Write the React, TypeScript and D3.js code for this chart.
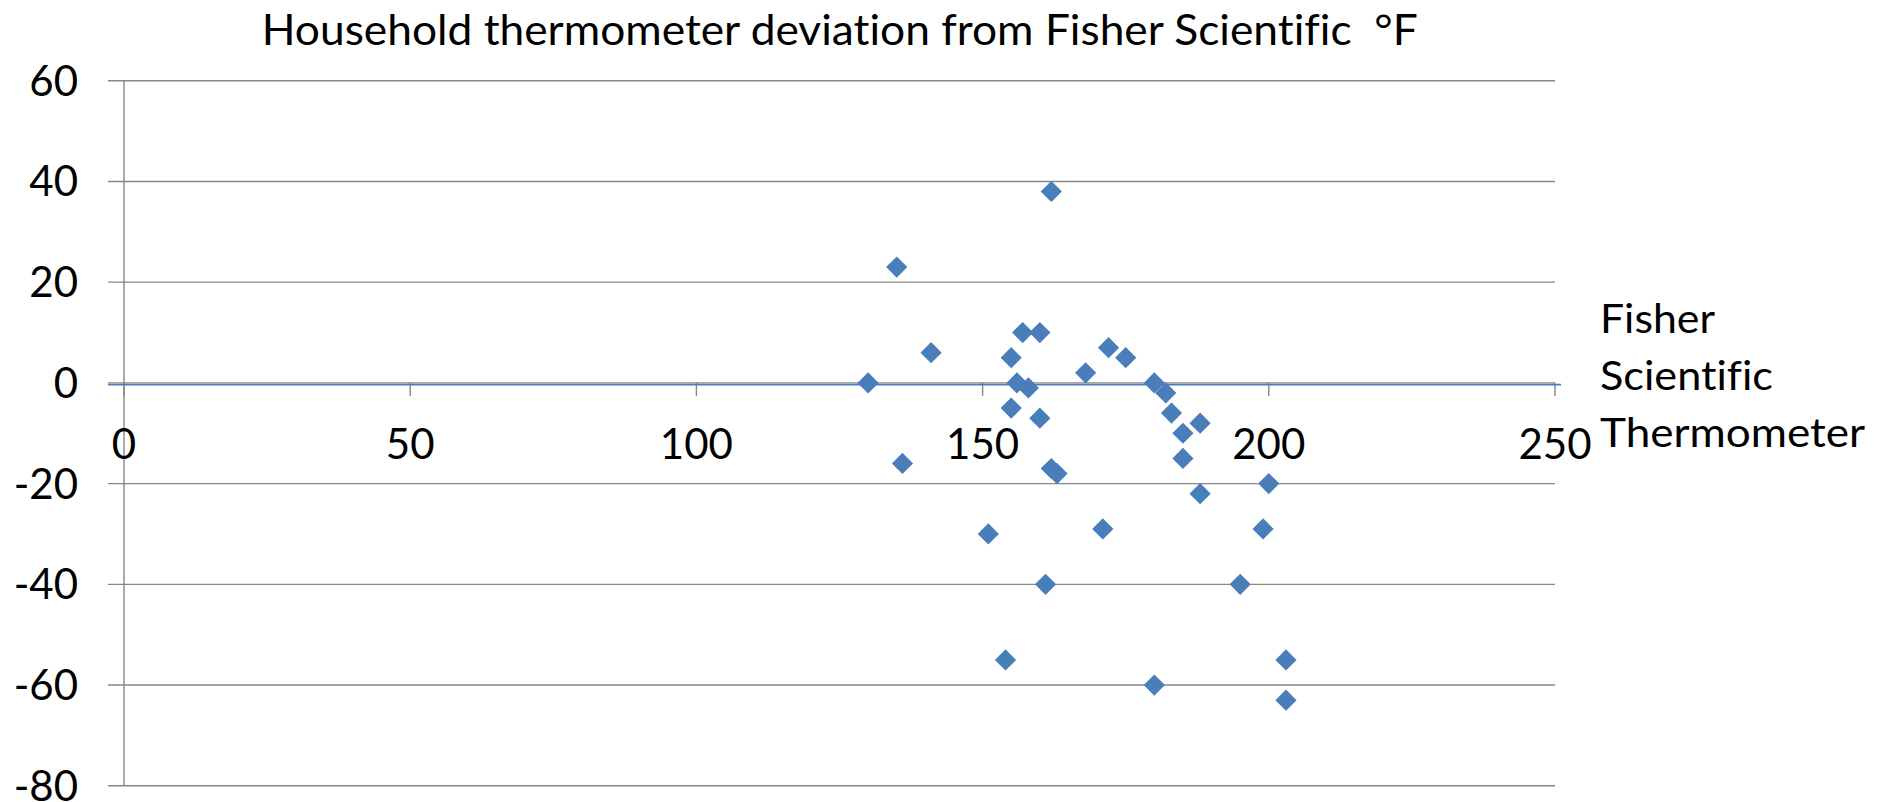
import React, { useEffect, useRef } from "react";
import * as d3 from "d3";

// readings: Fisher Scientific (x) vs household deviation (y), °F
const fisherTemps = [130, 135, 136, 141, 151, 154, 155, 155, 156, 157, 158, 160, 160, 161, 162, 162, 163, 168, 171, 172, 175, 180, 180, 182, 183, 185, 185, 188, 188, 195, 199, 200, 203, 203];
const deviations = [0, 23, -16, 6, -30, -55, 5, -5, 0, 10, -1, 10, -7, -40, 38, -17, -18, 2, -29, 7, 5, 0, -60, -2, -6, -10, -15, -8, -22, -40, -29, -20, -55, -63];

const xTicks = [0, 50, 100, 150, 200, 250];
const yTicks = [60, 40, 20, 0, -20, -40, -60, -80];

const titleText = "Household thermometer deviation from Fisher Scientific \u00a0\u00b0F";
const xAxisTitle = ["Fisher", "Scientific", "Thermometer"];

const W = 1889;
const H = 802;
const FONT = "Lato, 'Open Sans', sans-serif";

const ScatterChart = () => {
    const svgRef = useRef<SVGSVGElement>(null);

    useEffect(() => {
        document.body.style.margin = "0";
        const svg = d3.select(svgRef.current);
        svg.selectAll("*").remove();

        const x = d3.scaleLinear().domain([0, 250]).range([124, 1555]);
        const y = d3.scaleLinear().domain([-80, 60]).range([785.8, 80.7]);
        const gridColor = "#878787";

        // horizontal gridlines + little ticks on the left
        svg.append("g")
            .selectAll("line")
            .data(yTicks)
            .enter().append("line")
            .attr("x1", 108)
            .attr("x2", x(250))
            .attr("y1", d => y(d))
            .attr("y2", d => y(d))
            .attr("stroke", gridColor)
            .attr("stroke-width", 1.4);

        // y axis line
        svg.append("line")
            .attr("x1", x(0)).attr("x2", x(0))
            .attr("y1", y(60)).attr("y2", y(-80))
            .attr("stroke", gridColor)
            .attr("stroke-width", 1.4);

        // x axis ticks hanging from the zero line
        svg.append("g")
            .selectAll("line")
            .data(xTicks)
            .enter().append("line")
            .attr("x1", d => x(d)).attr("x2", d => x(d))
            .attr("y1", y(0)).attr("y2", y(0) + 13)
            .attr("stroke", gridColor)
            .attr("stroke-width", 1.4);

        // blue zero line (axis colour)
        svg.append("line")
            .attr("x1", 108).attr("x2", x(250) + 6)
            .attr("y1", y(0) + 1.8).attr("y2", y(0) + 1.8)
            .attr("stroke", "#4a7ebb")
            .attr("stroke-width", 1.8);

        // y labels
        svg.append("g")
            .selectAll("text")
            .data(yTicks)
            .enter().append("text")
            .attr("x", 78)
            .attr("y", d => y(d) + 15)
            .attr("text-anchor", "end")
            .attr("font-family", FONT)
            .style("font-size", "42px")
            .attr("fill", "#000")
            .text(d => d);

        // x labels
        svg.append("g")
            .selectAll("text")
            .data(xTicks)
            .enter().append("text")
            .attr("x", d => x(d))
            .attr("y", 459)
            .attr("text-anchor", "middle")
            .attr("font-family", FONT)
            .style("font-size", "42px")
            .attr("fill", "#000")
            .text(d => d);

        // diamonds
        const diamond = d3.symbol().type(d3.symbolSquare).size(225);
        svg.append("g")
            .selectAll("path")
            .data(fisherTemps.map((t, i) => [t, deviations[i]]))
            .enter().append("path")
            .attr("d", diamond)
            .attr("transform", d => `translate(${x(d[0])},${y(d[1])}) rotate(45)`)
            .attr("fill", "#4a7ebb");

        // title
        svg.append("text")
            .attr("x", 261.7)
            .attr("y", 45)
            .attr("font-family", FONT)
            .style("font-size", "42px")
            .style("font-variant-ligatures", "none")
            .attr("textLength", 1156)
            .attr("lengthAdjust", "spacingAndGlyphs")
            .style("white-space", "pre")
            .text(titleText);

        // x axis title, three lines to the right
        const titleWidths = [115, 173, 265];
        const titleBaselines = [333, 390, 447];
        xAxisTitle.forEach((line, i) => {
            svg.append("text")
                .attr("x", 1600)
                .attr("y", titleBaselines[i])
                .attr("font-family", FONT)
                .style("font-size", "40px")
                .style("font-variant-ligatures", "none")
                .attr("textLength", titleWidths[i])
                .attr("lengthAdjust", "spacingAndGlyphs")
                .text(line);
        });
    }, []);

    return (
        <svg
            ref={svgRef}
            width={W}
            height={H}
            style={{ position: "absolute", left: 0, top: 0, background: "#fff", display: "block" }}
        ></svg>
    );
};

export default function App() {
    return <ScatterChart />;
}
